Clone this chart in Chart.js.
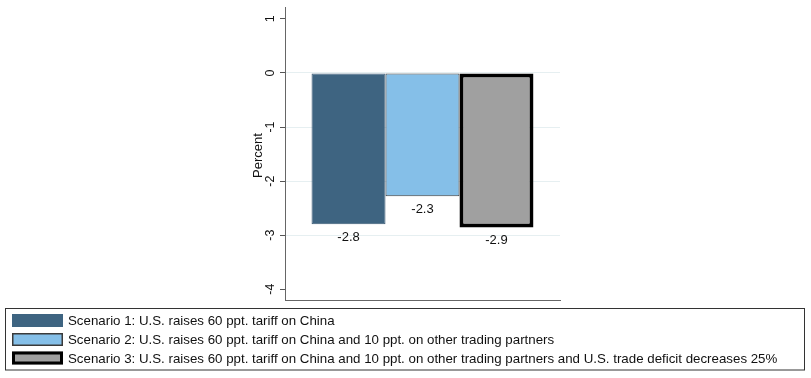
<!DOCTYPE html>
<html>
<head>
<meta charset="utf-8">
<script src="https://cdn.jsdelivr.net/npm/chart.js@4.4.0/dist/chart.umd.min.js"></script>
<style>
html,body{margin:0;padding:0;background:#fff;}
#wrap{width:811px;height:378px;}
</style>
</head>
<body>
<div id="wrap"><canvas id="c" width="811" height="378"></canvas></div>
<script>
// ---- data ----
const categories = [''];
const seriesLabels = [
  'Scenario 1: U.S. raises 60 ppt. tariff on China',
  'Scenario 2: U.S. raises 60 ppt. tariff on China and 10 ppt. on other trading partners',
  'Scenario 3: U.S. raises 60 ppt. tariff on China and 10 ppt. on other trading partners and U.S. trade deficit decreases 25%'
];
const scenario1 = [-2.80];
const scenario2 = [-2.28];
const scenario3 = [-2.86];
const yTicks = [1, 0, -1, -2, -3, -4];
const gridValues = [0, -1, -2, -3];
const yTitle = 'Percent';

const FONT = '"Liberation Sans", Arial, sans-serif';
const fills = ['#3e6481', '#85bfe8', '#a0a0a0'];
const borders = ['#3a5a74', '#3a3a3a', '#000000'];
const bw = [1, 1, 4];
const legendBW = [0, 1.5, 3];

const labelsPlugin = {
  id: 'customText',
  afterDatasetsDraw(chart) {
    const ctx = chart.ctx;
    ctx.save();
    ctx.fillStyle = '#111';
    ctx.font = '13px ' + FONT;
    ctx.textAlign = 'center';
    ctx.textBaseline = 'middle';
    chart.data.datasets.forEach((ds, i) => {
      const meta = chart.getDatasetMeta(i);
      meta.data.forEach((bar, j) => {
        const v = ds.data[j];
        ctx.fillText(v.toFixed(1), bar.x, bar.y + 13);
      });
    });
    ctx.restore();
  },
  afterDraw(chart) {
    const ctx = chart.ctx;
    const ys = chart.scales.y;
    const ca = chart.chartArea;
    ctx.save();
    // rotated y tick labels
    ctx.fillStyle = '#111';
    ctx.font = '12.5px ' + FONT;
    ctx.textAlign = 'center';
    ctx.textBaseline = 'middle';
    yTicks.forEach(v => {
      const y = ys.getPixelForValue(v);
      ctx.save();
      ctx.translate(271, y);
      ctx.rotate(-Math.PI / 2);
      ctx.fillText(String(v), 0, 0);
      ctx.restore();
    });
    // y title
    ctx.save();
    ctx.translate(258, (ca.top + ca.bottom) / 2 + 2);
    ctx.rotate(-Math.PI / 2);
    ctx.font = '13px ' + FONT;
    ctx.fillText(yTitle, 0, 0);
    ctx.restore();

    // legend box
    ctx.strokeStyle = '#333';
    ctx.lineWidth = 1;
    ctx.strokeRect(5.5, 308.5, 799, 61.5);
    const rowY = [320.5, 339.5, 358];
    ctx.textAlign = 'left';
    ctx.font = '13.3px ' + FONT;
    chart.data.datasets.forEach((ds, i) => {
      const y = rowY[i];
      const x0 = 12, w = 51, h = 13;
      ctx.fillStyle = fills[i];
      ctx.fillRect(x0, y - h / 2, w, h);
      if (legendBW[i] > 0) {
        ctx.strokeStyle = borders[i];
        ctx.lineWidth = legendBW[i];
        const o = legendBW[i] / 2;
        ctx.strokeRect(x0 + o, y - h / 2 + o, w - 2 * o, h - 2 * o);
      }
      ctx.fillStyle = '#111';
      ctx.fillText(ds.label, 68, y + 1);
    });
    ctx.restore();
  }
};

const seriesData = [scenario1, scenario2, scenario3];
new Chart(document.getElementById('c'), {
  type: 'bar',
  data: {
    labels: categories,
    datasets: seriesData.map((d, i) => ({
      label: seriesLabels[i],
      data: d,
      backgroundColor: fills[i],
      borderColor: borders[i],
      borderWidth: bw[i],
      borderSkipped: false,
      categoryPercentage: 0.807,
      barPercentage: 1.0
    }))
  },
  options: {
    responsive: false,
    animation: false,
    devicePixelRatio: 1,
    layout: { padding: { left: 255, right: 251, top: 7, bottom: 78 } },
    plugins: { legend: { display: false }, tooltip: { enabled: false } },
    scales: {
      x: {
        type: 'category',
        ticks: { display: false },
        grid: { display: false },
        border: { display: true, color: '#666', width: 1 },
        afterFit(s) { s.height = 0; }
      },
      y: {
        min: -4.2,
        max: 1.22,
        afterBuildTicks(s) { s.ticks = yTicks.map(v => ({ value: v })); },
        ticks: { display: false },
        afterFit(s) { s.width = 30; },
        border: { display: true, color: '#666', width: 1 },
        grid: {
          color: (c) => (c.tick && gridValues.includes(c.tick.value)) ? '#e6eff1' : 'rgba(0,0,0,0)',
          tickColor: '#555',
          tickLength: 5,
          drawTicks: true
        }
      }
    }
  },
  plugins: [labelsPlugin]
});
</script>
</body>
</html>
